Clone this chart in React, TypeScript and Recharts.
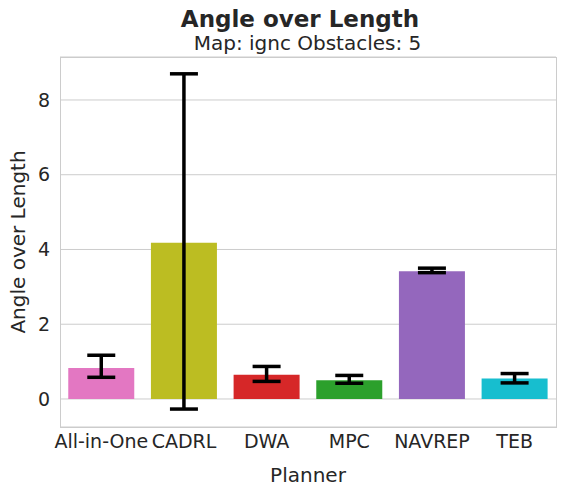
import { BarChart, Bar, XAxis, YAxis, CartesianGrid, ErrorBar, Cell } from "recharts";

const planners = ["All-in-One", "CADRL", "DWA", "MPC", "NAVREP", "TEB"];
const means = [0.83, 4.18, 0.65, 0.5, 3.42, 0.55];
const lows = [0.58, -0.27, 0.47, 0.42, 3.38, 0.43];
const highs = [1.17, 8.7, 0.87, 0.63, 3.5, 0.68];
const colors = ["#e377c2", "#bcbd22", "#d62728", "#2ca02c", "#9467bd", "#17becf"];
const yTicks = [0, 2, 4, 6, 8];

const data = planners.map((name, i) => ({
  name,
  value: means[i],
  err: [means[i] - lows[i], highs[i] - means[i]],
}));

const font = "DejaVu Sans, sans-serif";
const tick = { fontSize: 19, fill: "#262626", fontFamily: font };

export default function App() {
  return (
    <div style={{ position: "absolute", left: 0, top: 0, width: 565, height: 492, background: "#fff", fontFamily: font, color: "#262626" }}>
      <div style={{ position: "absolute", top: 6, left: 0, width: 600, textAlign: "center", fontSize: 23, fontWeight: "bold" }}>
        Angle over Length
      </div>
      <div style={{ position: "absolute", top: 31, left: 0, width: 615, textAlign: "center", fontSize: 20 }}>
        Map: ignc Obstacles: 5
      </div>
      <div style={{ position: "absolute", left: 60, top: 57, width: 495, height: 369, border: "1px solid #cccccc", pointerEvents: "none" }} />
      <BarChart
        width={565}
        height={492}
        data={data}
        margin={{ top: 57, right: 9, bottom: 0, left: 0 }}
        barCategoryGap="10%"
      >
        <CartesianGrid horizontal vertical={false} stroke="#cccccc" />
        <XAxis
          dataKey="name"
          tick={tick}
          tickLine={false}
          axisLine={false}
          interval={0}
          height={65}
          tickMargin={2}
          label={{ value: "Planner", position: "insideBottom", offset: 10, fontSize: 20, fill: "#262626", fontFamily: font }}
        />
        <YAxis
          domain={[-0.75, 9.15]}
          ticks={yTicks}
          tick={tick}
          tickLine={false}
          axisLine={false}
          width={60}
          tickMargin={4}
          allowDataOverflow
          label={{ value: "Angle over Length", angle: -90, position: "insideLeft", offset: 18, fontSize: 20, fill: "#262626", fontFamily: font, style: { textAnchor: "middle" } }}
        />
        <Bar dataKey="value" isAnimationActive={false}>
          {data.map((d, i) => (
            <Cell key={d.name} fill={colors[i]} />
          ))}
          <ErrorBar dataKey="err" width={14} stroke="#000" strokeWidth={3.5} isAnimationActive={false} />
        </Bar>
      </BarChart>
    </div>
  );
}
